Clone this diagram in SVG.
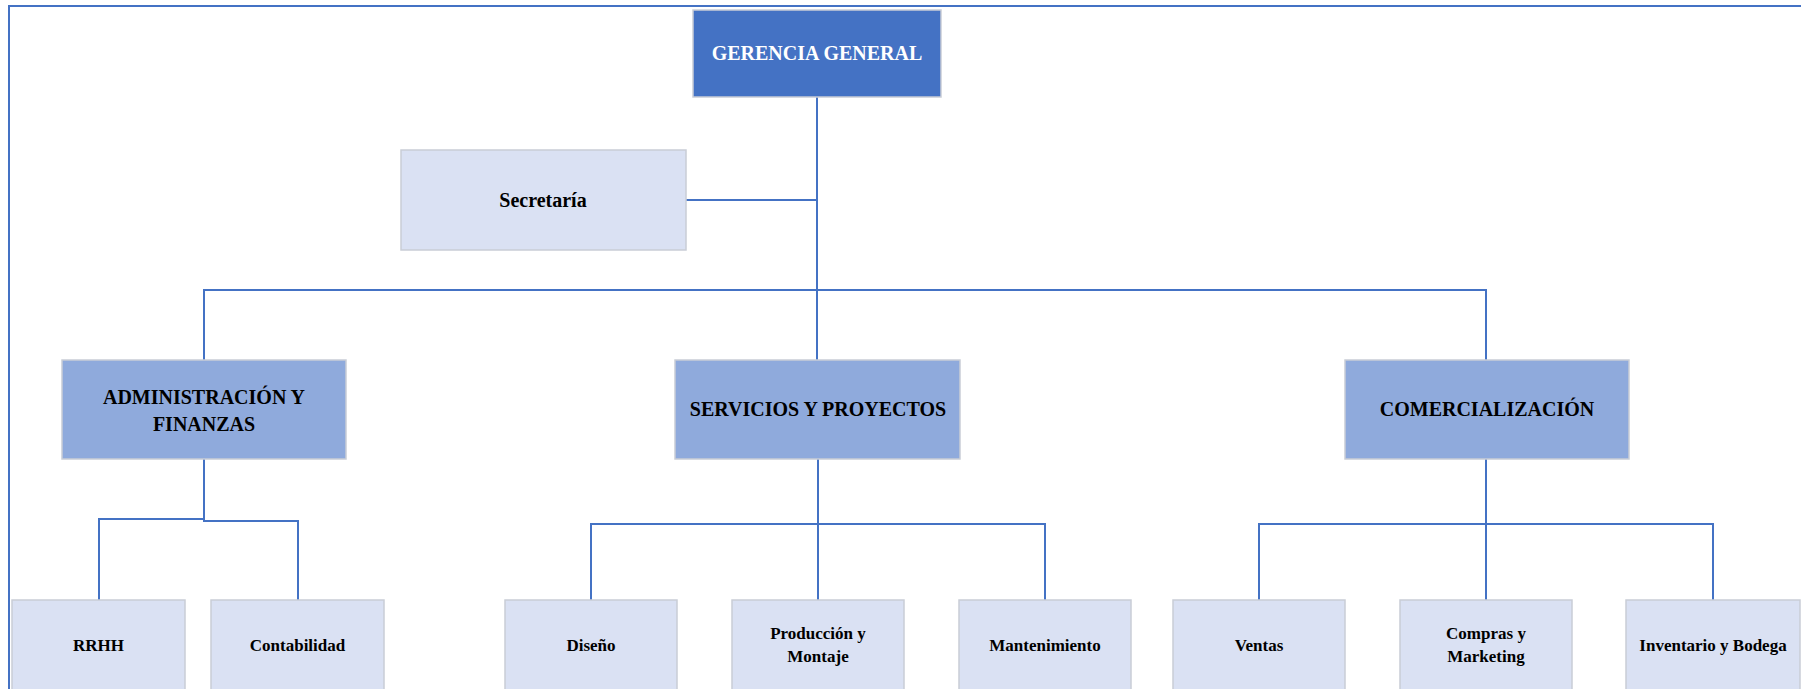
<svg xmlns="http://www.w3.org/2000/svg" width="1801" height="689" viewBox="0 0 1801 689">
<style>
.bg{fill:#ffffff}
.frame{stroke:#4472C4;fill:none;stroke-width:2}
.top{fill:#4472C4;stroke:#C9CDD6;stroke-width:1.5}
.mid{fill:#8FAADC;stroke:#C9CDD6;stroke-width:1.5}
.low{fill:#DAE1F3;stroke:#C9CDD6;stroke-width:1.5}
.t{font-family:"Liberation Serif","Times New Roman",serif;font-weight:bold;text-anchor:middle;fill:#000}
.tw{fill:#ffffff}
.l20{font-size:20px}
.l17{font-size:17px}
.conn path{fill:none;stroke:#4472C4;stroke-width:2}
</style>
<rect class="bg" x="0" y="0" width="1801" height="689"/>
<g id="frame">
<line class="frame" x1="8" y1="6" x2="1801" y2="6"/>
<line class="frame" x1="9" y1="5" x2="9" y2="689"/>
</g>
<g class="conn" id="connectors">
<path d="M817,96 V360"/>
<path d="M686,200 H817"/>
<path d="M204,360 V290 H1486 V360"/>
<path d="M204,459 V521 H298 V600"/>
<path d="M204,519 H99 V600"/>
<path d="M818,459 V524 M591,600 V524 H1045 V600 M818,524 V600"/>
<path d="M1486,459 V524 M1259,600 V524 H1713 V600 M1486,524 V600"/>
</g>
<g id="gerencia">
<rect class="top" x="693" y="10" width="248" height="87"/>
<text class="t tw l20" x="817" y="60">GERENCIA GENERAL</text>
</g>
<g id="secretaria">
<rect class="low" x="401" y="150" width="285" height="100"/>
<text class="t l20" x="543" y="207">Secretaría</text>
</g>
<g id="admin">
<rect class="mid" x="62" y="360" width="284" height="99"/>
<text class="t l20" x="204" y="404">ADMINISTRACIÓN Y</text>
<text class="t l20" x="204" y="431">FINANZAS</text>
</g>
<g id="servicios">
<rect class="mid" x="675" y="360" width="285" height="99"/>
<text class="t l20" x="818" y="416">SERVICIOS Y PROYECTOS</text>
</g>
<g id="comercializacion">
<rect class="mid" x="1345" y="360" width="284" height="99"/>
<text class="t l20" x="1487" y="416">COMERCIALIZACIÓN</text>
</g>
<g id="rrhh">
<rect class="low" x="12" y="600" width="173" height="92"/>
<text class="t l17" x="98.5" y="651">RRHH</text>
</g>
<g id="contabilidad">
<rect class="low" x="211" y="600" width="173" height="92"/>
<text class="t l17" x="297.5" y="651">Contabilidad</text>
</g>
<g id="diseno">
<rect class="low" x="505" y="600" width="172" height="92"/>
<text class="t l17" x="591" y="651">Diseño</text>
</g>
<g id="produccion">
<rect class="low" x="732" y="600" width="172" height="92"/>
<text class="t l17" x="818" y="639">Producción y</text>
<text class="t l17" x="818" y="662">Montaje</text>
</g>
<g id="mantenimiento">
<rect class="low" x="959" y="600" width="172" height="92"/>
<text class="t l17" x="1045" y="651">Mantenimiento</text>
</g>
<g id="ventas">
<rect class="low" x="1173" y="600" width="172" height="92"/>
<text class="t l17" x="1259" y="651">Ventas</text>
</g>
<g id="compras">
<rect class="low" x="1400" y="600" width="172" height="92"/>
<text class="t l17" x="1486" y="639">Compras y</text>
<text class="t l17" x="1486" y="662">Marketing</text>
</g>
<g id="inventario">
<rect class="low" x="1626" y="600" width="174" height="92"/>
<text class="t l17" x="1713" y="651">Inventario y Bodega</text>
</g>
</svg>
